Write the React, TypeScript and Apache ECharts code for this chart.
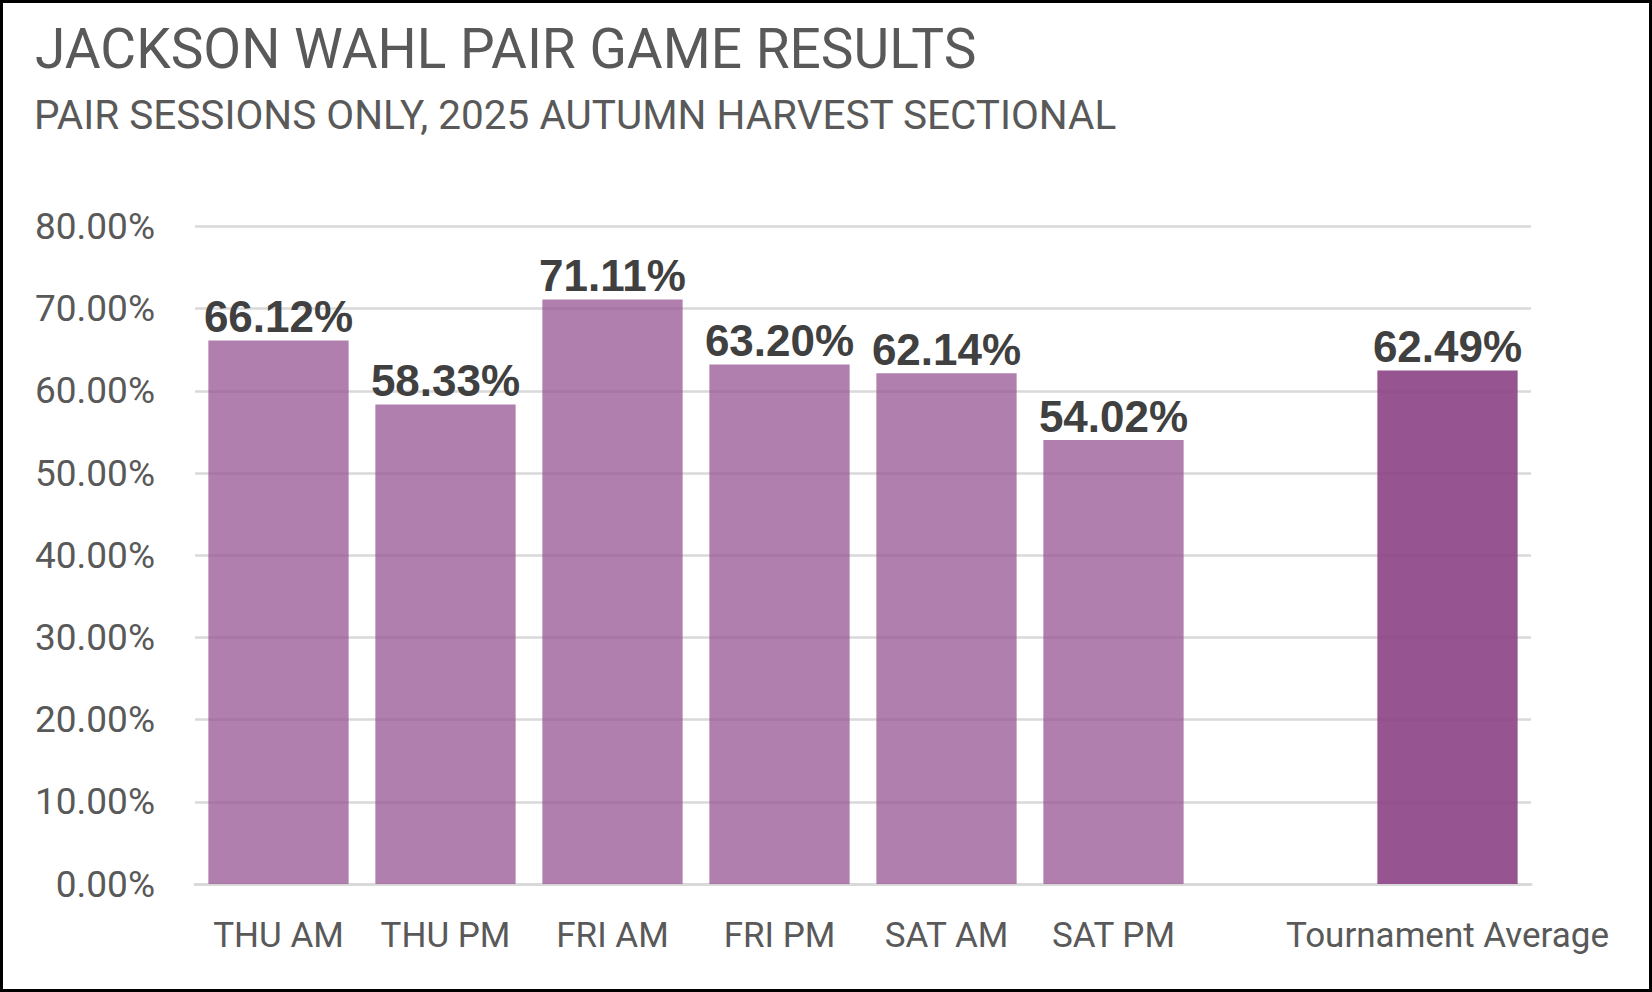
import React, { useEffect, useRef } from "react";
import * as echarts from "echarts";

const categories = ["THU AM", "THU PM", "FRI AM", "FRI PM", "SAT AM", "SAT PM", "", "Tournament Average"];
const sessionValues = [66.12, 58.33, 71.11, 63.2, 62.14, 54.02, null, null];
const averageValues = [null, null, null, null, null, null, null, 62.49];
const yTicks = [0, 10, 20, 30, 40, 50, 60, 70, 80];

const TITLE = "JACKSON WAHL PAIR GAME RESULTS";
const SUBTITLE = "PAIR SESSIONS ONLY, 2025 AUTUMN HARVEST SECTIONAL";

export default function App() {
  const ref = useRef<HTMLDivElement>(null);
  useEffect(() => {
    if (!ref.current) return;
    const chart = echarts.init(ref.current, undefined, { renderer: "svg" });
    const labelCfg = {
      show: true,
      position: "top",
      distance: 2,
      fontFamily: "Liberation Sans",
      fontWeight: "bold",
      fontSize: 44,
      lineHeight: 44,
      color: "#404040",
      formatter: (p: any) => (p.value == null ? "" : Number(p.value).toFixed(2) + "%"),
    };
    chart.setOption({
      animation: false,
      backgroundColor: "#ffffff",
      title: [
        {
          text: TITLE,
          left: 30,
          top: 16,
          textStyle: { fontFamily: "Roboto", fontWeight: "normal", fontSize: 55, color: "#595959" },
        },
        {
          text: SUBTITLE,
          left: 29,
          top: 89,
          textStyle: { fontFamily: "Roboto", fontWeight: "normal", fontSize: 40.5, color: "#595959" },
        },
      ],
      graphic: [
        {
          type: "rect",
          shape: { x: 1.5, y: 1.5, width: 1649, height: 989 },
          style: { fill: "none", stroke: "#000000", lineWidth: 3 },
          z: 100,
        },
      ],
      grid: { left: 195, right: 121, top: 226.5, bottom: 108, containLabel: false },
      xAxis: {
        type: "category",
        data: categories,
        axisLine: { show: true, lineStyle: { color: "#D9D9D9", width: 3 } },
        axisTick: { show: false },
        axisLabel: {
          fontFamily: "Roboto",
          fontSize: 35,
          color: "#595959",
          margin: 34,
          interval: 0,
        },
      },
      yAxis: {
        type: "value",
        min: yTicks[0],
        max: yTicks[yTicks.length - 1],
        interval: 10,
        axisLine: { show: false },
        axisTick: { show: false },
        splitLine: { lineStyle: { color: "#D9D9D9", width: 2.5 } },
        axisLabel: {
          fontFamily: "Roboto",
          fontSize: 37,
          color: "#595959",
          margin: 40,
          formatter: (v: number) => v.toFixed(2) + "%",
        },
      },
      series: [
        {
          type: "bar",
          data: sessionValues,
          stack: "s",
          barCategoryGap: "16%",
          itemStyle: { color: "rgba(150,84,146,0.75)" },
          label: labelCfg,
        },
        {
          type: "bar",
          data: averageValues,
          stack: "s",
          barCategoryGap: "16%",
          itemStyle: { color: "rgba(139,66,133,0.9)" },
          label: labelCfg,
        },
      ],
    });
    return () => chart.dispose();
  }, []);
  return (
    <div
      ref={ref}
      style={{ position: "fixed", left: 0, top: 0, width: 1652, height: 992 }}
    />
  );
}
